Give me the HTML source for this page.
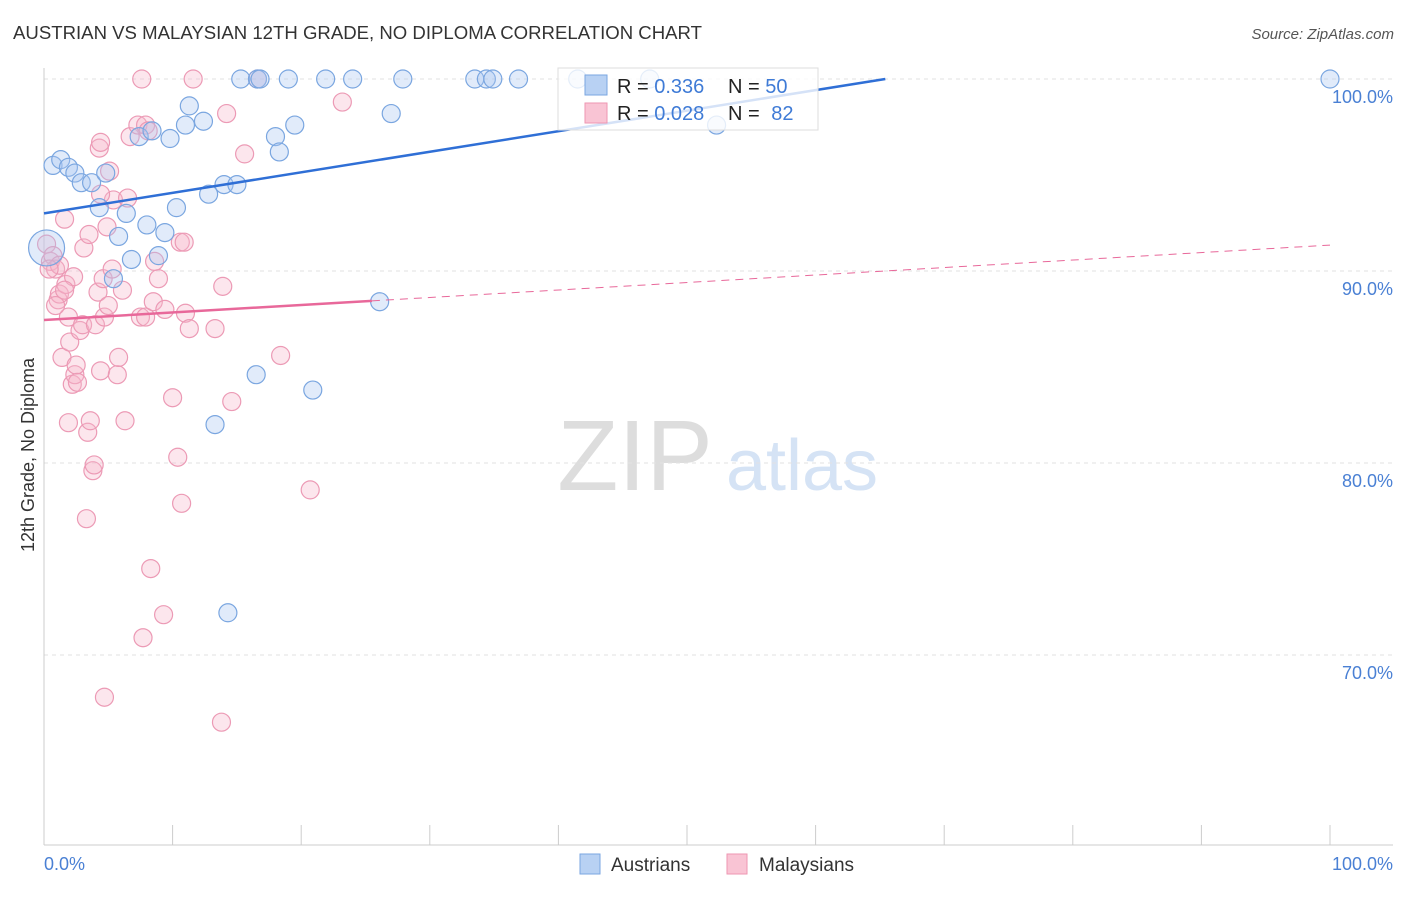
<!DOCTYPE html>
<html><head><meta charset="utf-8"><style>
body{margin:0;background:#fff;font-family:"Liberation Sans",sans-serif}
svg text{font-family:"Liberation Sans",sans-serif}
</style></head><body>
<svg id="chart" width="1406" height="892" xmlns="http://www.w3.org/2000/svg">
<text x="13" y="39" font-size="18" fill="#333" textLength="689" lengthAdjust="spacingAndGlyphs">AUSTRIAN VS MALAYSIAN 12TH GRADE, NO DIPLOMA CORRELATION CHART</text>
<text x="1394" y="39" font-size="15" fill="#555" text-anchor="end" font-style="italic">Source: ZipAtlas.com</text>
<text transform="translate(34,455) rotate(-90)" font-size="18" fill="#333" text-anchor="middle">12th Grade, No Diploma</text>
<g>
<text x="635" y="490" font-size="100" fill="#ddd" font-family="Liberation Serif,serif" text-anchor="middle">ZIP</text>
<text x="802" y="490" font-size="72" fill="#d5e3f5" text-anchor="middle">atlas</text>
</g>
<g id="grid"></g><g id="axes"></g><g id="pts"></g><g id="lines"></g>
<g>
<rect x="558" y="68" width="260" height="62" fill="#fff" fill-opacity="0.8" stroke="#ddd"/>
<rect x="585" y="75" width="22" height="20" fill="#b8d1f3" stroke="#7aa6e0"/>
<rect x="585" y="103" width="22" height="20" fill="#f9c4d4" stroke="#ee96b2"/>
<text x="617" y="93" font-size="20" fill="#222">R = <tspan fill="#3f7bd6">0.336</tspan><tspan x="728">N = </tspan><tspan fill="#3f7bd6">50</tspan></text>
<text x="617" y="120" font-size="20" fill="#222">R = <tspan fill="#3f7bd6">0.028</tspan><tspan x="728">N = </tspan><tspan fill="#3f7bd6" dx="6">82</tspan></text>
</g>
<g>
<rect x="580" y="854" width="20" height="20" fill="#b8d1f3" stroke="#7aa6e0"/>
<text x="611" y="871" font-size="19" fill="#333">Austrians</text>
<rect x="727" y="854" width="20" height="20" fill="#f9c4d4" stroke="#ee96b2"/>
<text x="759" y="871" font-size="19" fill="#333">Malaysians</text>
</g>
</svg>
<script>
const yTicks=[100,90,80,70];
const xTickLabels=["0.0%","100.0%"];
const austriansX=[0.7,1.3,1.9,2.4,2.9,3.7,4.3,4.8,5.8,6.4,6.8,7.4,8.0,8.4,8.9,9.4,9.8,10.3,11.0,11.3,12.4,12.8,13.3,14.0,14.3,15.0,15.3,16.5,16.6,16.8,18.0,18.3,19.0,19.5,20.9,21.9,24.0,26.1,27.0,27.9,33.5,34.4,34.9,36.9,41.5,47.1,52.3,100,5.4,0.2];
const austriansY=[95.5,95.8,95.4,95.1,94.6,94.6,93.3,95.1,91.8,93.0,90.6,97.0,92.4,97.3,90.8,92.0,96.9,93.3,97.6,98.6,97.8,94.0,82.0,94.5,72.2,94.5,100,84.6,100,100,97.0,96.2,100,97.6,83.8,100,100,88.4,98.2,100,100,100,100,100,100,100,97.6,100,89.6,91.2];
const malaysiansX=[0.2,0.5,0.7,0.9,1.1,1.2,1.4,1.6,1.7,1.9,1.9,2.0,2.2,2.3,2.4,2.5,2.6,2.8,3.0,3.1,3.3,3.4,3.5,3.6,3.8,3.9,4.0,4.2,4.3,4.4,4.4,4.6,4.7,4.7,4.9,5.0,5.1,5.3,5.4,5.7,5.8,6.1,6.3,6.5,6.7,7.3,7.5,7.7,7.9,7.9,8.1,8.3,8.5,8.6,8.9,9.3,9.4,10.0,10.4,10.6,10.7,10.9,11.0,11.3,11.6,13.3,13.8,13.9,14.2,14.6,15.6,16.6,18.4,20.7,23.2,7.6,4.4,1.2,0.9,0.4,1.6];
const malaysiansY=[91.4,90.5,90.8,90.1,88.5,88.8,85.5,92.7,89.3,82.1,87.6,86.3,84.1,89.7,84.6,85.1,84.2,86.9,87.2,91.2,77.1,81.6,91.9,82.2,79.6,79.9,87.2,88.9,96.4,84.8,96.7,89.6,67.8,87.6,92.3,88.2,95.2,90.1,93.7,84.6,85.5,89.0,82.2,93.8,97.0,97.6,87.6,70.9,97.6,87.6,97.3,74.5,88.4,90.5,89.6,72.1,88.0,83.4,80.3,91.5,77.9,91.5,87.8,87.0,100,87.0,66.5,89.2,98.2,83.2,96.1,100,85.6,78.6,98.8,100,94.0,90.3,88.2,90.1,89.0];
const austriansTrend=[93.0,0.107];
const malaysiansTrend=[87.45,0.039];
const NS="http://www.w3.org/2000/svg";
const X0=44,X1=1330,Y100=79,PX=19.2;
const sx=v=>X0+(X1-X0)*v/100, sy=v=>Y100+(100-v)*PX;
function mk(t,a,p){const e=document.createElementNS(NS,t);for(const k in a)e.setAttribute(k,a[k]);p.appendChild(e);return e;}
const grid=document.getElementById('grid'),axes=document.getElementById('axes');
yTicks.forEach(t=>{
 const l=mk('line',{x1:44,x2:1393,y1:sy(t),y2:sy(t),stroke:'#e2e2e2','stroke-dasharray':'4,4'},grid);
 
 
 const tx=mk('text',{x:1393,y:sy(t)+24,'font-size':18,fill:'#4a80d4','text-anchor':'end'},axes);
 tx.textContent=t.toFixed(1)+'%';
 
 
});
const ax=mk('line',{x1:44,x2:1393,y1:845,y2:845,stroke:'#ccc'},axes);


const ay=mk('line',{x1:44,x2:44,y1:68,y2:845,stroke:'#ccc'},axes);


for(let i=0;i<=10;i++){const t=mk('line',{x1:sx(i*10),x2:sx(i*10),y1:825,y2:845,stroke:'#ccc'},axes);
 
 }
const xl0=mk('text',{x:44,y:870,'font-size':18,fill:'#4a80d4'},axes);xl0.textContent=xTickLabels[0];


const xl1=mk('text',{x:1393,y:870,'font-size':18,fill:'#4a80d4','text-anchor':'end'},axes);xl1.textContent=xTickLabels[1];


const pts=document.getElementById('pts');
malaysiansX.forEach((x,i)=>{const c=mk('circle',{cx:sx(x),cy:sy(malaysiansY[i]),r:9,fill:'#f7b6ca','fill-opacity':0.35,stroke:'#ec9ab5','stroke-width':1.2},pts);
 
 });
austriansX.forEach((x,i)=>{const c=mk('circle',{cx:sx(x),cy:sy(austriansY[i]),r:(i==austriansX.length-1?18:9),fill:'#a9c7f0','fill-opacity':0.35,stroke:'#7aa6e0','stroke-width':1.2},pts);
 
 });
const lines=document.getElementById('lines');
const [ba,bb]=austriansTrend;
const xEnd=Math.min(100,(100-ba)/bb);
const bl=mk('line',{x1:sx(0),y1:sy(ba),x2:sx(xEnd),y2:sy(ba+bb*xEnd),stroke:'#2f6fd6','stroke-width':2.5},lines);


const [pa,pb]=malaysiansTrend;
const pl=mk('line',{x1:sx(0),y1:sy(pa),x2:sx(25.5),y2:sy(pa+pb*25.5),stroke:'#e8689a','stroke-width':2.5},lines);


const pd=mk('line',{x1:sx(25.5),y1:sy(pa+pb*25.5),x2:sx(100),y2:sy(pa+pb*100),stroke:'#e8689a','stroke-width':1,'stroke-dasharray':'8,6'},lines);


</script>
</body></html>
